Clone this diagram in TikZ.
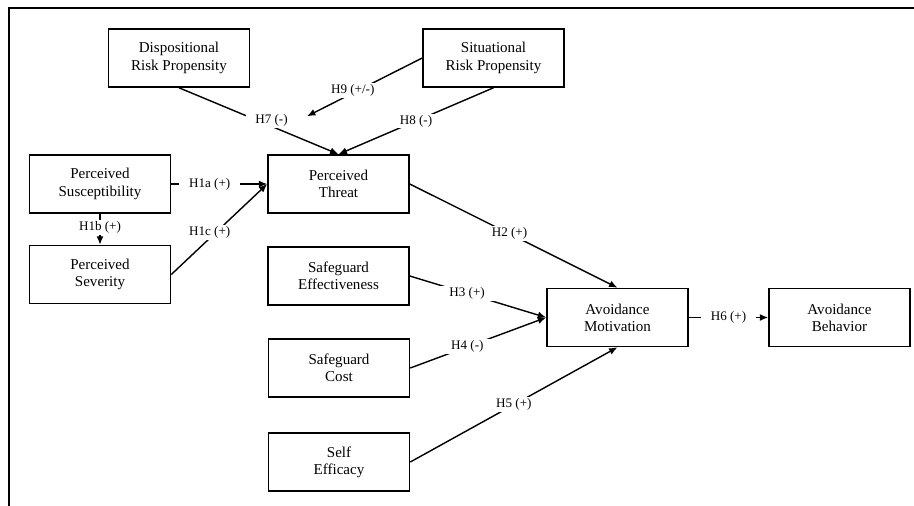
\documentclass[tikz,border=0pt]{standalone}
\usepackage{fontspec}
\setmainfont{Liberation Serif}
\usetikzlibrary{arrows.meta}

\begin{document}
\begin{tikzpicture}[x=0.025cm, y=-0.025cm,
  box/.style={draw, line width=1.1pt, minimum width=3.525cm, minimum height=1.45cm,
    align=center, font=\fontsize{10.7}{12.3}\selectfont},
  hyp/.style={fill=white, inner xsep=7pt, inner ysep=1pt, font=\fontsize{9.3}{11}\selectfont},
  link/.style={line width=1pt, -{Latex[length=6pt,width=5pt]}}]
\useasboundingbox (0, 0) rectangle (914, 506);

% The frame
\draw[line width=1.3pt] (914, 8) -- (9, 8) -- (9, 506);

% Risk propensity
\node[box] (disp) at (179, 58) {Dispositional\\Risk Propensity};
\node[box] (sit) at (493.5, 58) {Situational\\Risk Propensity};

% Threat appraisal
\node[box] (susc) at (100, 184) {Perceived\\Susceptibility};
\node[box] (threat) at (338.5, 184) {Perceived\\Threat};
\node[box] (sev) at (100, 274.5) {Perceived\\Severity};

% Coping appraisal
\node[box] (effect) at (338.5, 276) {Safeguard\\Effectiveness};
\node[box] (cost) at (339, 368) {Safeguard\\Cost};
\node[box] (selfeff) at (339, 462) {Self\\Efficacy};

% Avoidance
\node[box] (motiv) at (617.5, 317.5) {Avoidance\\Motivation};
\node[box] (behav) at (839.5, 317.5) {Avoidance\\Behavior};

% The hypotheses
\draw[link] (disp.south) -- node[hyp, pos=0.58, yshift=4pt] (h7) {H7 (-)} (threat.north);
\draw[link] (sit.south) -- node[hyp, pos=0.5] {H8 (-)} (threat.north);
\draw[link, shorten >=7pt] (sit.west) -- node[hyp, pos=0.56, yshift=2pt] {H9 (+/-)} (h7.east);
\draw[link] (susc.east) -- node[hyp, pos=0.4] {H1a (+)} (threat.west);
\draw[link] (susc.south) -- node[hyp, pos=0.45] {H1b (+)} (sev.north);
\draw[link] (sev.east) -- node[hyp, pos=0.4, yshift=4pt] {H1c (+)} (threat.west);
\draw[link] (threat.east) -- node[hyp, pos=0.48] {H2 (+)} (motiv.north);
\draw[link] (effect.east) -- node[hyp, pos=0.42] {H3 (+)} (motiv.west);
\draw[link] (cost.east) -- node[hyp, pos=0.42] {H4 (-)} (motiv.west);
\draw[link] (selfeff.east) -- node[hyp, pos=0.5] {H5 (+)} (motiv.south);
\draw[link] (motiv.east) -- node[hyp, pos=0.5] {H6 (+)} (behav.west);

\end{tikzpicture}
\end{document}
